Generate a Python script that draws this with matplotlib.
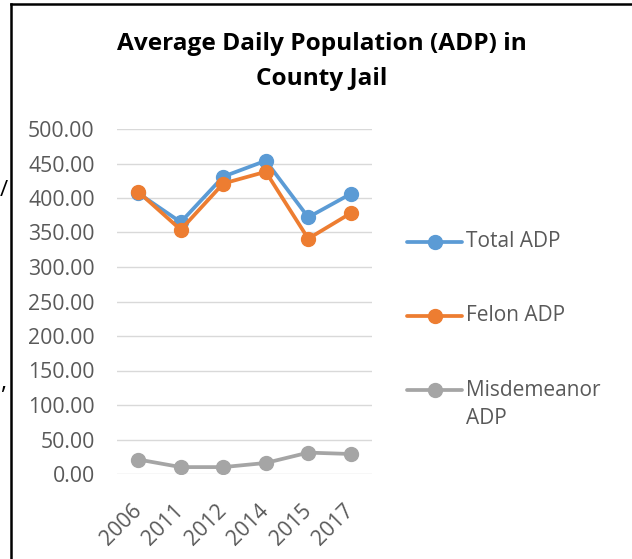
import matplotlib
matplotlib.use("Agg")
import matplotlib.pyplot as plt
from matplotlib.lines import Line2D

years = ["2006", "2011", "2012", "2014", "2015", "2017"]
total_adp = [407, 365, 431, 454, 372, 406]
felon_adp = [409, 354, 421, 438, 341, 378]
misdemeanor_adp = [21, 10, 10, 16, 31, 29]
series_names = ["Total ADP", "Felon ADP", "Misdemeanor\nADP"]
colors = ["#5b9bd5", "#ed7d31", "#a5a5a5"]
y_ticks = [0, 50, 100, 150, 200, 250, 300, 350, 400, 450, 500]

plt.rcParams['font.family'] = ['Open Sans', 'DejaVu Sans']

W, H = 632, 559
fig = plt.figure(figsize=(W / 100, H / 100), dpi=100)
ax = fig.add_axes([117 / W, 1 - 474 / H, (372 - 117) / W, (474 - 129) / H])

x = list(range(len(years)))
series = [total_adp, felon_adp, misdemeanor_adp]
for vals, name, c in zip(series, series_names, colors):
    ax.plot(x, vals, color=c, lw=2.7, marker='o', markersize=10, label=name,
            solid_capstyle='round', solid_joinstyle='round', zorder=3)

ax.set_xlim(-0.5, len(years) - 0.5)
ax.set_ylim(0, 500)
ax.set_yticks(y_ticks)
ax.set_yticklabels([f"{v:.2f}" for v in y_ticks])
ax.set_xticks(x)
ax.set_xticklabels(years, rotation=45, ha='right', va='center', rotation_mode='anchor')
ax.grid(axis='y', color='#d9d9d9', lw=1.0)
ax.set_axisbelow(True)
for s in ax.spines.values():
    s.set_visible(False)
ax.tick_params(axis='both', length=0, labelsize=15.3, labelcolor='#595959')
ax.tick_params(axis='y', pad=16)
ax.tick_params(axis='x', pad=24)

fig.text(322 / W, 1 - 50 / H, "Average Daily Population (ADP) in", ha='center', va='baseline',
         fontsize=17.6, fontweight='bold', color='black')
fig.text(322 / W, 1 - 85 / H, "County Jail", ha='center', va='baseline',
         fontsize=17.6, fontweight='bold', color='black')

# legend drawn at the right side
leg_y = [241.5, 315.5, 390]
for name, c, yy in zip(series_names, colors, leg_y):
    yf = 1 - yy / H
    fig.add_artist(Line2D([407 / W, 462 / W], [yf, yf], color=c, lw=2.7, solid_capstyle='round',
                          transform=fig.transFigure))
    fig.add_artist(Line2D([434.5 / W], [yf], color=c, marker='o', markersize=10, lw=0,
                          transform=fig.transFigure))
    first, *rest = name.split("\n")
    fig.text(466 / W, yf, first, ha='left', va='center', fontsize=15, color='#595959')
    for k, line in enumerate(rest, start=1):
        fig.text(466 / W, 1 - (yy + 28 * k) / H, line, ha='left', va='center', fontsize=15, color='#595959')

# chart border (partial frame) and cropped stray glyphs
fig.add_artist(Line2D([11 / W, 11 / W], [0, 1 - 3.5 / H], color='black', lw=1.8, transform=fig.transFigure))
fig.add_artist(Line2D([11 / W, 1], [1 - 3.5 / H, 1 - 3.5 / H], color='black', lw=1.8, transform=fig.transFigure))
fig.text(0 / W, 1 - 190 / H, "/", fontsize=16, va='center', ha='left')
fig.text(0 / W, 1 - 383 / H, ",", fontsize=17, va='center', ha='left')

fig.savefig("out.png", dpi=100)
